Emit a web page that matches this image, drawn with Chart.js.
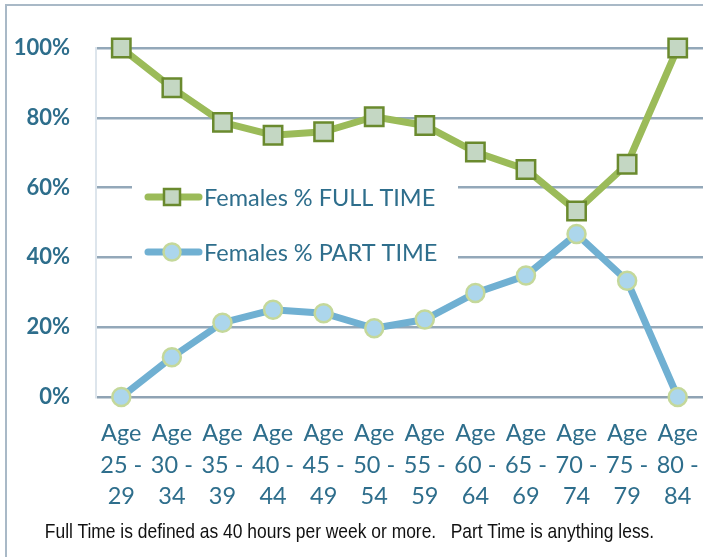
<!DOCTYPE html>
<html>
<head>
<meta charset="utf-8">
<script src="https://cdn.jsdelivr.net/npm/chart.js@4"></script>
<style>
  html, body { margin: 0; padding: 0; background: #fff; }
  #wrap { position: relative; width: 703px; height: 557px; overflow: hidden; }
  #frame { position: absolute; left: 5px; top: 4px; width: 720px; height: 600px;
           border-left: 2px solid #a9b9c7; border-top: 2px solid #a9b9c7; }
  #chart { position: absolute; left: 0; top: 0; }
  #note { position: absolute; left: -102px; width: 903px; top: 519px; text-align: center;
          font-family: "Liberation Sans", Arial, sans-serif;
          font-size: 21px; color: #111; white-space: pre;
          transform: scaleX(0.83); transform-origin: 451.5px 0; }
</style>
</head>
<body>
<div id="wrap">
  <div id="frame"></div>
  <canvas id="chart" width="703" height="557"></canvas>
  <div id="note">Full Time is defined as 40 hours per week or more.   Part Time is anything less.</div>
</div>
<script>
// age bands on the x axis (three text lines each)
const ageBands = [
  ['Age', '25 -', '29'], ['Age', '30 -', '34'], ['Age', '35 -', '39'], ['Age', '40 -', '44'],
  ['Age', '45 -', '49'], ['Age', '50 -', '54'], ['Age', '55 -', '59'], ['Age', '60 -', '64'],
  ['Age', '65 -', '69'], ['Age', '70 -', '74'], ['Age', '75 -', '79'], ['Age', '80 -', '84']
];
const fullTimePct = [100, 88.6, 78.7, 75.0, 76.0, 80.3, 77.8, 70.2, 65.2, 53.3, 66.7, 100];
const partTimePct = [0, 11.4, 21.3, 25.0, 24.0, 19.7, 22.2, 29.8, 34.8, 46.7, 33.3, 0];
const seriesNames = ['Females % FULL TIME', 'Females % PART TIME'];
const yTicks = [0, 20, 40, 60, 80, 100];

const TEXT_COLOR = '#2e6e8c';
const GREEN = '#9bbb59';
const BLUE = '#70b0d2';

// legend drawn inside the plot on a white box, like the original
const insideLegend = {
  id: 'insideLegend',
  beforeDatasetsDraw(chart) {
    const ctx = chart.ctx;
    ctx.save();
    ctx.fillStyle = '#ffffff';
    ctx.fillRect(132, 172, 326, 102);
    const rows = [197, 252];
    chart.data.datasets.forEach((ds, i) => {
      const y = rows[i];
      ctx.strokeStyle = ds.borderColor;
      ctx.lineWidth = 7;
      ctx.lineCap = 'round';
      ctx.beginPath();
      ctx.moveTo(148, y);
      ctx.lineTo(199, y);
      ctx.stroke();
      ctx.fillStyle = ds.pointBackgroundColor;
      ctx.strokeStyle = ds.pointBorderColor;
      ctx.lineWidth = 2.5;
      ctx.beginPath();
      if (ds.pointStyle === 'rect') {
        ctx.rect(164, y - 8, 16, 16);
      } else {
        ctx.arc(172, y, 8.5, 0, Math.PI * 2);
      }
      ctx.fill();
      ctx.stroke();
      ctx.fillStyle = TEXT_COLOR;
      ctx.font = '23.5px Lato';
      ctx.textBaseline = 'middle';
      ctx.textAlign = 'left';
      ctx.fillText(ds.label, 204, y + 1);
    });
    ctx.restore();
  }
};

const ctx = document.getElementById('chart').getContext('2d');
new Chart(ctx, {
  type: 'line',
  data: {
    labels: ageBands,
    datasets: [
      {
        label: seriesNames[0],
        data: fullTimePct,
        borderColor: GREEN,
        borderWidth: 7,
        pointStyle: 'rect',
        pointRadius: 13,
        pointBackgroundColor: '#c4d7c3',
        pointBorderColor: '#6a8a2e',
        pointBorderWidth: 2.5,
        tension: 0,
        clip: false
      },
      {
        label: seriesNames[1],
        data: partTimePct,
        borderColor: BLUE,
        borderWidth: 7,
        pointStyle: 'circle',
        pointRadius: 9,
        pointBackgroundColor: '#acd6ec',
        pointBorderColor: '#c4d89a',
        pointBorderWidth: 2.5,
        tension: 0,
        clip: false
      }
    ]
  },
  options: {
    responsive: false,
    animation: false,
    layout: { autoPadding: false, padding: { top: 48, right: 0, bottom: 0, left: 0 } },
    plugins: { legend: { display: false }, tooltip: { enabled: false } },
    scales: {
      x: {
        offset: true,
        grid: { display: false, drawTicks: false },
        border: { display: false },
        ticks: {
          color: TEXT_COLOR,
          font: { family: 'Lato', size: 23.5, lineHeight: 1.36 },
          padding: 20,
          maxRotation: 0,
          autoSkip: false
        },
        afterFit(scale) {
          scale.height = 160;
          scale.paddingLeft = 0;
          scale.paddingRight = 0;
        }
      },
      y: {
        min: 0,
        max: 100,
        afterBuildTicks(scale) { scale.ticks = yTicks.map(v => ({ value: v })); },
        grid: {
          color: ctx => ctx.tick.value === 0 ? '#8fa3b4' : '#93a8b9',
          lineWidth: 2.5,
          drawTicks: false
        },
        border: { display: true, color: '#dde5ec', width: 2 },
        ticks: {
          color: TEXT_COLOR,
          font: { family: 'Lato', size: 22, weight: 'bold' },
          padding: 26,
          callback: v => v + '%'
        },
        afterFit(scale) { scale.width = 96; }
      }
    }
  },
  plugins: [insideLegend]
});
</script>
</body>
</html>
